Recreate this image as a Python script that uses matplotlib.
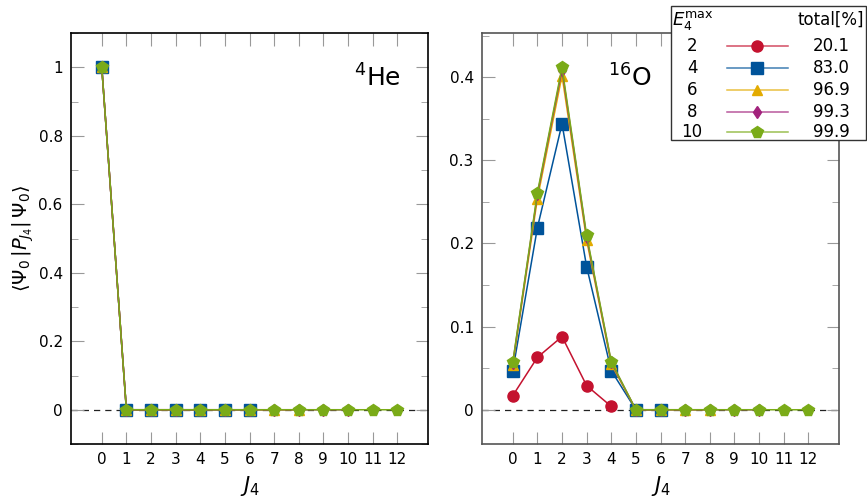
import matplotlib
matplotlib.use("Agg")
import matplotlib.pyplot as plt
import numpy as np
from matplotlib.lines import Line2D
from matplotlib.patches import Rectangle
from matplotlib.ticker import FuncFormatter, MultipleLocator

# data
emax = ["2", "4", "6", "8", "10"]
totals = ["20.1", "83.0", "96.9", "99.3", "99.9"]
colors = ["#c4122f", "#00539a", "#e3ab00", "#a2227c", "#7aab18"]
markers = ["o", "s", "^", "d", "p"]
msizes = [8, 8, 7.5, 6.5, 8.5]

j_he = [
    np.arange(0, 5),
    np.arange(0, 7),
    np.arange(0, 9),
    np.arange(0, 11),
    np.arange(0, 13),
]
p_he = [
    [1.0, 0, 0, 0, 0],
    [1.0, 0, 0, 0, 0, 0, 0],
    [1.0, 0, 0, 0, 0, 0, 0, 0, 0],
    [1.0, 0, 0, 0, 0, 0, 0, 0, 0, 0, 0],
    [1.0, 0, 0, 0, 0, 0, 0, 0, 0, 0, 0, 0, 0],
]

j_o = j_he
p_o = [
    [0.017, 0.063, 0.088, 0.029, 0.004],
    [0.047, 0.219, 0.344, 0.172, 0.047, 0, 0],
    [0.054, 0.254, 0.402, 0.204, 0.055, 0, 0, 0, 0],
    [0.056, 0.259, 0.409, 0.208, 0.057, 0, 0, 0, 0, 0, 0],
    [0.057, 0.261, 0.412, 0.210, 0.058, 0, 0, 0, 0, 0, 0, 0, 0],
]

W, H = 867, 503
fig = plt.figure(figsize=(W / 100, H / 100), dpi=100)

def px_box(x0, x1, y0, y1):
    return [x0 / W, 1 - y1 / H, (x1 - x0) / W, (y1 - y0) / H]

ax_he = fig.add_axes(px_box(71, 428, 33, 444))
ax_o = fig.add_axes(px_box(482, 839, 33, 444))

fmt = FuncFormatter(lambda v, pos: f"{v:g}")

def style(ax, jj, pp, ymax, major, minor, spine_col, label, lx):
    ax.axhline(0, color="#222222", lw=0.9, ls=(0, (5, 4)), zorder=1)
    for x, y, c, m, ms in zip(jj, pp, colors, markers, msizes):
        ax.plot(x, y, color=c, marker=m, ms=ms, mec=c, lw=1.1, zorder=3)
    ax.set_xlim(-1.25, 13.25)
    ax.set_ylim(-0.1 * ymax, 1.1 * ymax)
    ax.set_xticks(np.arange(0, 13))
    ax.yaxis.set_major_locator(MultipleLocator(major))
    ax.yaxis.set_minor_locator(MultipleLocator(minor))
    ax.yaxis.set_major_formatter(fmt)
    ax.tick_params(which="both", direction="in", top=True, right=True,
                   color="#999999", labelsize=11, pad=6)
    ax.tick_params(which="major", length=9)
    ax.tick_params(which="minor", length=5)
    for s in ax.spines.values():
        s.set_color(spine_col)
        s.set_linewidth(1.2)
    ax.set_xlabel(r"$J_4$", fontsize=15, labelpad=5)
    ax.text(lx, 0.89, label, transform=ax.transAxes, ha="right",
            va="center", fontsize=18)

style(ax_he, j_he, p_he, 1.0, 0.2, 0.1, "black", r"$^{4}$He", 0.925)
style(ax_o, j_o, p_o, 0.412, 0.1, 0.05, "#555555", r"$^{16}$O", 0.476)
ax_he.set_ylabel(r"$\langle \Psi_0\,|P_{J_4}|\,\Psi_0\rangle$", fontsize=14,
                 labelpad=2)

# legend table, top right
fig.add_artist(Rectangle((671 / W, 1 - 140 / H), 195 / W, 134 / H,
                         transform=fig.transFigure, fill=True, fc="white",
                         ec="#333333", lw=1.0, zorder=10))
fig.text(672 / W, 1 - 20 / H, r"$E_4^{\mathrm{max}}$", fontsize=13,
         va="center", ha="left", zorder=11)
fig.text(864 / W, 1 - 20 / H, "total[%]", fontsize=12, va="center",
         ha="right", zorder=11)
rows_y = [46, 68, 90, 112, 132]
for e, t, c, m, ms, yy in zip(emax, totals, colors, markers, msizes, rows_y):
    yf = 1 - yy / H
    fig.text(692 / W, yf, e, fontsize=12, ha="center", va="center", zorder=11)
    fig.add_artist(Line2D([727 / W, 788 / W], [yf, yf], color=c, lw=1.1,
                          alpha=0.75, transform=fig.transFigure, zorder=11))
    fig.add_artist(Line2D([757 / W], [yf], color=c, marker=m, ms=ms, mec=c,
                          transform=fig.transFigure, zorder=12))
    fig.text(850 / W, yf, t, fontsize=12, ha="right", va="center", zorder=11)

fig.savefig("out.png", dpi=100)
